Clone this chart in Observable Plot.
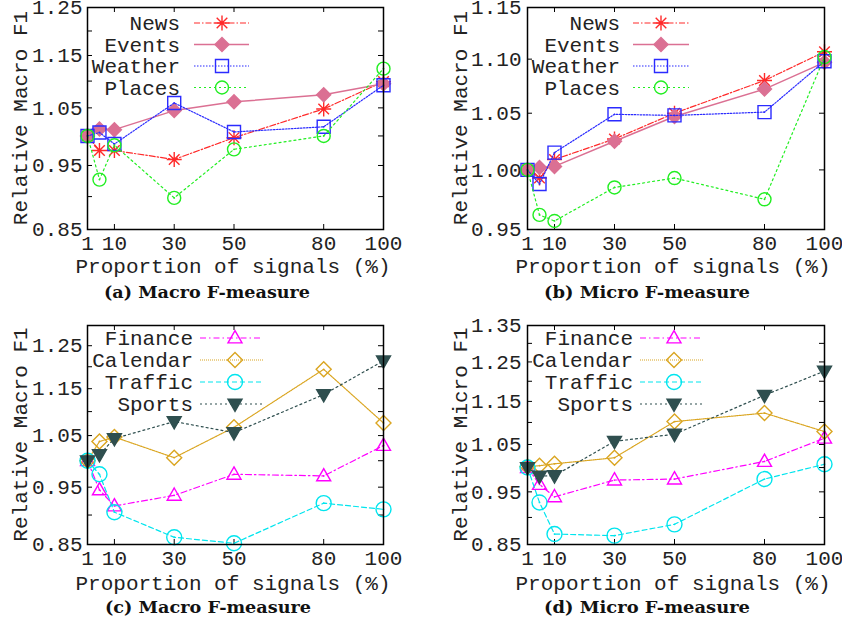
<!DOCTYPE html>
<html><head><meta charset="utf-8">
<script src="https://cdn.jsdelivr.net/npm/d3@7"></script>
<script src="https://cdn.jsdelivr.net/npm/@observablehq/plot@0.6"></script>
<style>
body{margin:0;background:#fff;}
#wrap{position:relative;width:842px;height:624px;overflow:hidden;background:#fff;}
.panel{position:absolute;}
</style></head><body><div id="wrap"></div>
<script>
// ---------- data ----------
const signals = [1, 5, 10, 30, 50, 80, 100];
const xTicks = [1, 10, 30, 50, 80, 100];

const newsMacro    = [1.000, 0.975, 0.975, 0.960, 0.997, 1.048, 1.099];
const eventsMacro  = [1.000, 1.012, 1.011, 1.045, 1.061, 1.074, 1.095];
const weatherMacro = [1.000, 1.006, 0.986, 1.059, 1.007, 1.016, 1.092];
const placesMacro  = [1.000, 0.927, 0.984, 0.898, 0.977, 1.000, 1.124];

const newsMicro    = [1.000, 0.993, 1.009, 1.027, 1.050, 1.080, 1.107];
const eventsMicro  = [1.000, 1.002, 1.003, 1.025, 1.047, 1.072, 1.097];
const weatherMicro = [1.000, 0.988, 1.015, 1.049, 1.048, 1.051, 1.098];
const placesMicro  = [1.000, 0.962, 0.957, 0.985, 0.993, 0.975, 1.102];

const financeMacro  = [1.000, 0.945, 0.916, 0.935, 0.974, 0.971, 1.030];
const calendarMacro = [1.000, 1.038, 1.047, 1.006, 1.067, 1.194, 1.076];
const trafficMacro  = [1.000, 0.974, 0.905, 0.862, 0.852, 0.921, 0.910];
const sportsMacro   = [1.000, 1.012, 1.044, 1.079, 1.056, 1.137, 1.214];

const financeMicro  = [1.000, 0.965, 0.940, 0.974, 0.976, 1.013, 1.064];
const calendarMicro = [1.002, 1.004, 1.008, 1.021, 1.102, 1.122, 1.079];
const trafficMicro  = [1.000, 0.929, 0.869, 0.866, 0.887, 0.976, 1.007];
const sportsMicro   = [1.000, 0.982, 0.983, 1.057, 1.073, 1.165, 1.226];

const yLabelsA = [0.85, 0.95, 1.05, 1.15, 1.25];
const yMinorA  = [0.85, 0.90, 0.95, 1.00, 1.05, 1.10, 1.15, 1.20, 1.25];
const yLabelsB = [0.95, 1.00, 1.05, 1.10, 1.15];
const yMinorB  = [0.95, 1.00, 1.05, 1.10, 1.15];
const yLabelsC = [0.85, 0.95, 1.05, 1.15, 1.25];
const yMinorC  = [0.85, 0.90, 0.95, 1.00, 1.05, 1.10, 1.15, 1.20, 1.25, 1.30];
const yLabelsD = [0.85, 0.95, 1.05, 1.15, 1.25, 1.35];
const yMinorD  = [0.85, 0.90, 0.95, 1.00, 1.05, 1.10, 1.15, 1.20, 1.25, 1.30, 1.35];

// ---------- symbols ----------
function sym(fn){ return {draw(c, size){ const r = Math.sqrt(size / Math.PI); fn(c, r); }}; }
const star8 = sym((c, r) => {
  c.moveTo(-r, 0); c.lineTo(r, 0); c.moveTo(0, -r); c.lineTo(0, r);
  const d = r * Math.SQRT1_2;
  c.moveTo(-d, -d); c.lineTo(d, d); c.moveTo(-d, d); c.lineTo(d, -d);
});
const diamond = sym((c, r) => { c.moveTo(0, -r); c.lineTo(r, 0); c.lineTo(0, r); c.lineTo(-r, 0); c.closePath(); });
const square = sym((c, r) => { c.rect(-r, -r, 2 * r, 2 * r); });
const circle = sym((c, r) => { c.moveTo(r, 0); c.arc(0, 0, r, 0, 2 * Math.PI); c.closePath(); });
const triUp = sym((c, r) => { c.moveTo(0, -r * 1.05); c.lineTo(r, r * 0.7); c.lineTo(-r, r * 0.7); c.closePath(); });
const triDown = sym((c, r) => { c.moveTo(0, r * 1.05); c.lineTo(r, -r * 0.7); c.lineTo(-r, -r * 0.7); c.closePath(); });

const styleTop = [
  {name: "News",    color: "#ff2a2a", dash: "6,2,1.5,2", symbol: star8,   r: 7.5, filled: false, sw: 1.2},
  {name: "Events",  color: "#db7093", dash: null,        symbol: diamond, r: 7,   filled: true,  sw: 1.5},
  {name: "Weather", color: "#2b2bff", dash: "1.5,1.5",   symbol: square,  r: 6.5, filled: false, sw: 1.2},
  {name: "Places",  color: "#22ee22", dash: "2,3",       symbol: circle,  r: 6.5, filled: false, sw: 1.2}
];
const styleBottom = [
  {name: "Finance",  color: "#ff00ff", dash: "6,3,1.5,3", symbol: triUp,   r: 7,   filled: false, sw: 1.2},
  {name: "Calendar", color: "#daa520", dash: "1,1",       symbol: diamond, r: 7.5, filled: false, sw: 1.2},
  {name: "Traffic",  color: "#00e5ee", dash: "5,3",       symbol: circle,  r: 7.5, filled: false, sw: 1.2},
  {name: "Sports",   color: "#2f4f4f", dash: "2,3",       symbol: triDown, r: 7,   filled: true,  sw: 1.2}
];

function mkSeries(styles, valuesList){
  return styles.map((s, i) => ({...s, rows: signals.map((x, j) => ({x, y: valuesList[i][j]}))}));
}

const MONO = "Liberation Mono, Courier New, monospace";
const TXT = "#222";
const fmt2 = d3.format(".2f");

function panel(cfg){
  const {series, domain, labels, minor, left, top, width, height, ml, mr, mt, mb, pad,
         ytitle, ytitleX, xtitleX, xtitleY, leg, caption, capX, capY} = cfg;
  const fw = width - ml - mr, fh = height - mt - mb;
  const marks = [
    Plot.tickY(minor, {y: d => d, insetRight: fw - 5, stroke: "black"}),
    Plot.tickY(minor, {y: d => d, insetLeft: fw - 5, stroke: "black"}),
    Plot.tickX(xTicks, {x: d => d, insetTop: fh - 5, stroke: "black"}),
    Plot.tickX(xTicks, {x: d => d, insetBottom: fh - 5, stroke: "black"}),
    Plot.text(labels, {y: d => d, text: d => fmt2(d), frameAnchor: "left", textAnchor: "end", dx: -pad, fill: TXT}),
    Plot.text(xTicks, {x: d => d, text: d => String(d), frameAnchor: "bottom", lineAnchor: "top", dy: 6, fill: TXT})
  ];
  for (const s of series){
    marks.push(Plot.line(s.rows, {x: "x", y: "y", stroke: s.color, strokeWidth: s.sw, strokeDasharray: s.dash}));
    marks.push(Plot.dot(s.rows, {x: "x", y: "y", symbol: s.symbol, r: s.r, stroke: s.color, strokeWidth: 1.4,
      fill: s.filled ? s.color : "none"}));
    if (!s.filled) marks.push(Plot.dot(s.rows, {x: "x", y: "y", r: 0.9, fill: s.color, stroke: "none"}));
  }
  marks.push(Plot.frame({stroke: "black", strokeWidth: 1.5}));
  const svg = Plot.plot({
    width, height, marginLeft: ml, marginRight: mr, marginTop: mt, marginBottom: mb,
    style: {fontFamily: MONO, fontSize: "21px", background: "white", overflow: "visible"},
    x: {domain: [1, 100], axis: null},
    y: {type: "log", domain, axis: null},
    marks
  });
  const g = d3.select(svg).append("g");
  // legend
  series.forEach((s, i) => {
    const y = leg.rows[i];
    g.append("text").attr("x", leg.tx).attr("y", y).attr("text-anchor", "end").attr("dy", "0.35em")
      .attr("font-family", MONO).attr("font-size", 21).attr("fill", TXT).text(s.name);
    g.append("line").attr("x1", leg.x1).attr("x2", leg.x2).attr("y1", y).attr("y2", y)
      .attr("stroke", s.color).attr("stroke-width", s.sw).attr("stroke-dasharray", s.dash);
    g.append("path").attr("transform", `translate(${leg.mx},${y})`)
      .attr("d", d3.symbol(s.symbol, Math.PI * s.r * s.r)())
      .attr("stroke", s.color).attr("stroke-width", 1.4).attr("fill", s.filled ? s.color : "none");
  });
  // axis titles
  g.append("text").attr("transform", `translate(${ytitleX},${mt + fh / 2}) rotate(-90)`)
    .attr("text-anchor", "middle").attr("dy", "0.35em").attr("font-family", MONO).attr("font-size", 21)
    .attr("fill", TXT).text(ytitle);
  g.append("text").attr("x", xtitleX).attr("y", xtitleY).attr("text-anchor", "middle").attr("dy", "0.35em")
    .attr("font-family", MONO).attr("font-size", 21).attr("fill", TXT).text("Proportion of signals (%)");
  g.append("text").attr("x", capX).attr("y", capY).attr("text-anchor", "middle").attr("dy", "0.35em")
    .attr("font-family", "DejaVu Serif, serif").attr("font-weight", "bold").attr("font-size", 17)
    .attr("fill", "#111").attr("textLength", 206).attr("lengthAdjust", "spacingAndGlyphs").text(caption);
  const div = document.createElement("div");
  div.className = "panel";
  div.style.left = left + "px";
  div.style.top = top + "px";
  div.appendChild(svg);
  document.getElementById("wrap").appendChild(div);
}

const legTopRows = [23, 44.5, 66, 87.5];
const legBotRows = [28, 50, 72, 94];

panel({series: mkSeries(styleTop, [newsMacro, eventsMacro, weatherMacro, placesMacro]),
  domain: [0.85, 1.25], labels: yLabelsA, minor: yMinorA,
  left: 0, top: 0, width: 420, height: 310, ml: 87, mr: 37, mt: 7, mb: 81, pad: 5,
  ytitle: "Relative Macro F1", ytitleX: 20, xtitleX: 233, xtitleY: 266,
  leg: {tx: 180, x1: 194, x2: 249, mx: 222, rows: legTopRows},
  caption: "(a) Macro F-measure", capX: 207, capY: 292});

panel({series: mkSeries(styleTop, [newsMicro, eventsMicro, weatherMicro, placesMicro]),
  domain: [0.95, 1.15], labels: yLabelsB, minor: yMinorB,
  left: 420, top: 0, width: 422, height: 310, ml: 107, mr: 18, mt: 7, mb: 81, pad: 6,
  ytitle: "Relative Macro F1", ytitleX: 40, xtitleX: 253, xtitleY: 266,
  leg: {tx: 200, x1: 213, x2: 269, mx: 241, rows: legTopRows},
  caption: "(b) Micro F-measure", capX: 227, capY: 292});

panel({series: mkSeries(styleBottom, [financeMacro, calendarMacro, trafficMacro, sportsMacro]),
  domain: [0.85, 1.30], labels: yLabelsC, minor: yMinorC,
  left: 0, top: 310, width: 420, height: 314, ml: 87, mr: 37, mt: 15, mb: 80, pad: 5,
  ytitle: "Relative Macro F1", ytitleX: 20, xtitleX: 233, xtitleY: 273,
  leg: {tx: 193, x1: 200, x2: 263, mx: 235, rows: legBotRows},
  caption: "(c) Macro F-measure", capX: 208, capY: 297});

panel({series: mkSeries(styleBottom, [financeMicro, calendarMicro, trafficMicro, sportsMicro]),
  domain: [0.85, 1.35], labels: yLabelsD, minor: yMinorD,
  left: 420, top: 310, width: 422, height: 314, ml: 107, mr: 18, mt: 15, mb: 80, pad: 6,
  ytitle: "Relative Micro F1", ytitleX: 40, xtitleX: 253, xtitleY: 273,
  leg: {tx: 213, x1: 220, x2: 283, mx: 254, rows: legBotRows},
  caption: "(d) Micro F-measure", capX: 227, capY: 297});
</script>
</body></html>
